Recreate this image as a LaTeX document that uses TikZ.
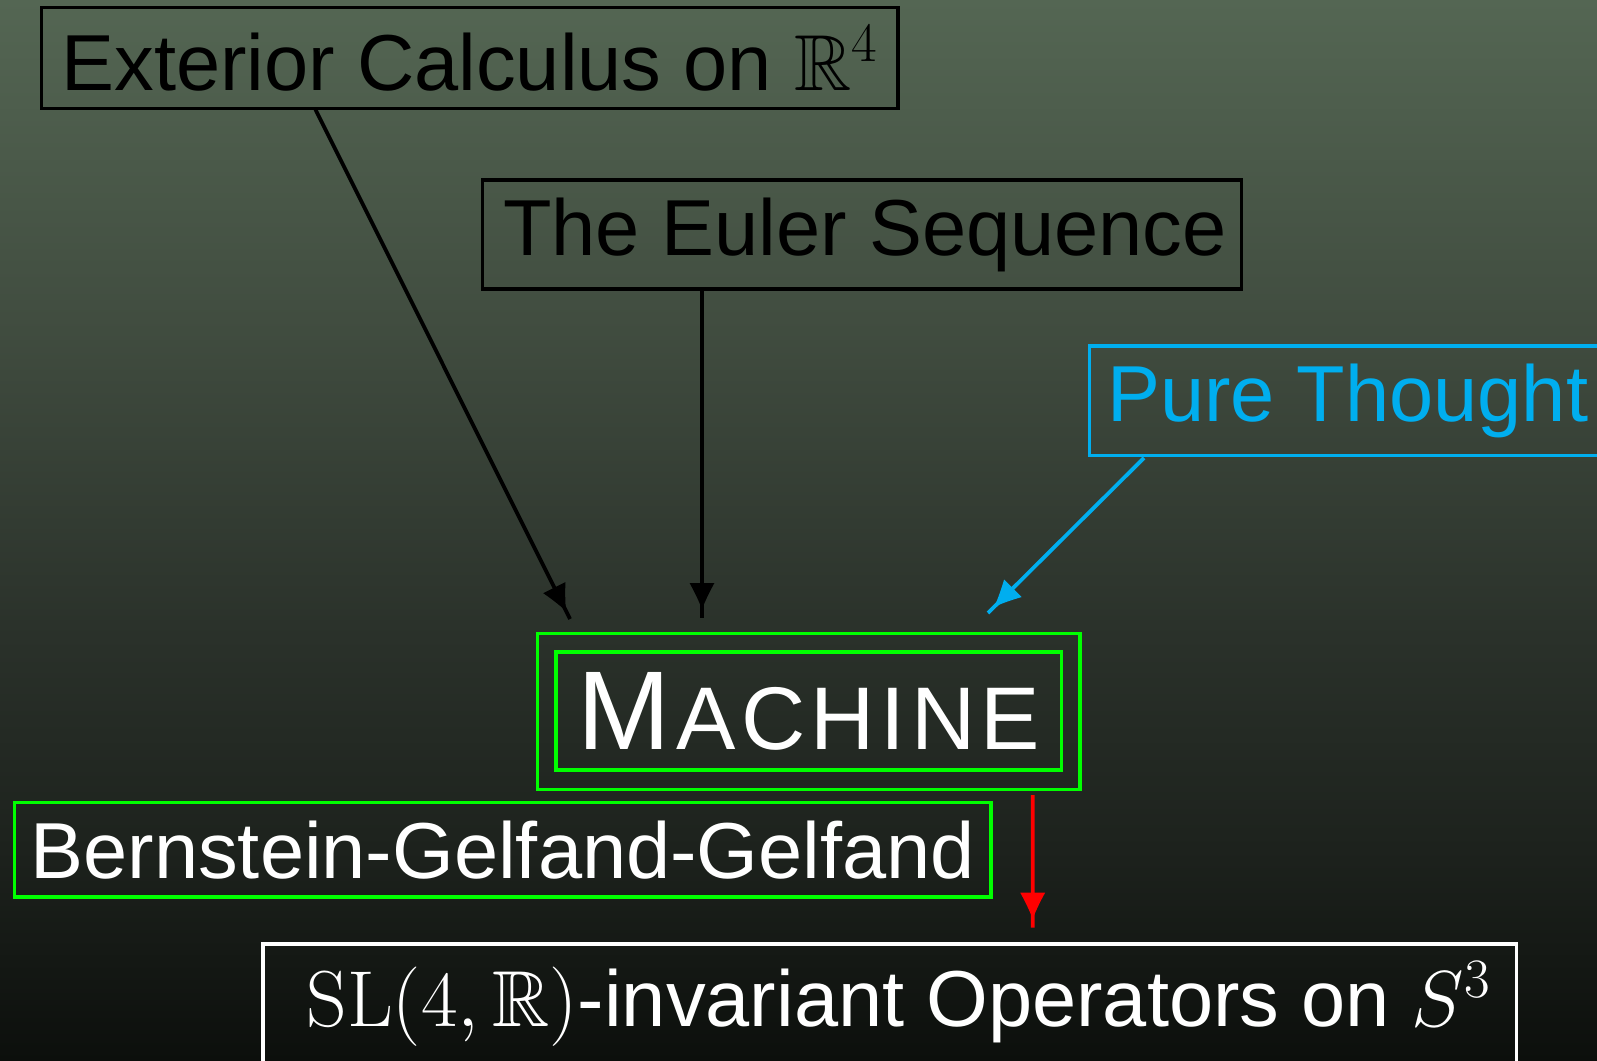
\RequirePackage{fix-cm}
\documentclass[tikz,border=0pt]{standalone}
\usepackage{amssymb}
\usepackage[no-math]{fontspec}
\newfontfamily\hel{Liberation Sans}
\usetikzlibrary{decorations.markings}
\definecolor{bgA}{RGB}{12,15,12}
\definecolor{bgB}{RGB}{29,34,29}
\definecolor{bgC}{RGB}{42,49,42}
\definecolor{bgD}{RGB}{65,77,64}
\definecolor{bgE}{RGB}{84,102,83}
\definecolor{puregreen}{RGB}{0,255,0}
\definecolor{purecyan}{RGB}{0,174,239}
\definecolor{purered}{RGB}{255,0,0}
\pgfdeclareverticalshading{bgshade}{100bp}{color(0bp)=(bgA); color(25bp)=(bgA); color(35bp)=(bgB); color(45bp)=(bgC); color(60bp)=(bgD); color(75bp)=(bgE); color(100bp)=(bgE)}
\begin{document}
\begin{tikzpicture}[x=0.5pt,y=-0.5pt,
  box/.style={draw, rectangle, line width=1.7pt, inner sep=0pt, outer sep=0pt,
    font=\hel\fontsize{39.7pt}{46pt}\selectfont},
  tipped/.style={postaction={decorate},
    decoration={markings, mark=at position -4.5pt with {\fill (0,0) .. controls (-5pt,2pt) and (-9pt,4pt) .. (-13pt,6.2pt) -- (-13pt,-6.2pt) .. controls (-9pt,-4pt) and (-5pt,-2pt) .. (0,0) -- cycle;}}},
  conn/.style={line width=1.9pt, color=#1, tipped}]
\useasboundingbox (0,0) rectangle (1597,1061);
\shade[shading=bgshade] (0,0) rectangle (1597,1061);

\node[box, draw=black, text=black, minimum width=428.25pt, minimum height=50.4pt] (ext) at (469.75,58.1) {Exterior Calculus on $\mathbb{R}^4$};
\node[box, draw=black, text=black, minimum width=379.5pt, minimum height=54.5pt] (euler) at (862,234.5) {\hspace*{3pt}The Euler Sequence};
\node[box, draw=purecyan, text=purecyan, minimum width=258.25pt, minimum height=54.65pt] (pure) at (1347.75,400.65) {Pure Thought};
\node[box, draw=puregreen, minimum width=271.15pt, minimum height=78.1pt] (machout) at (808.85,711.4) {};
\node[box, draw=puregreen, text=white, minimum width=252.85pt, minimum height=59pt] (machin) at (808.85,711)
  {\fontsize{56pt}{60pt}\selectfont M\kern2.8pt{\fontsize{44.5pt}{50pt}\selectfont A\kern2.8pt C\kern2.8pt H\kern2.8pt I\kern2.8pt N\kern2.8pt E}};
\node[box, draw=puregreen, text=white, minimum width=488.15pt, minimum height=47.25pt] (bgg) at (502.85,849.75) {Bernstein-Gelfand-Gelfand};
\node[box, draw=white, text=white, minimum width=626.85pt, minimum height=60pt] (sl) at (889.85,1004) {\hspace*{9pt}$\mathrm{SL}(4,\mathbb{R})$-invariant Operators on $S^3$};

\coordinate (e1) at (570,619);
\coordinate (e2) at (702,618);
\coordinate (e3) at (988,613);
\coordinate (e4) at (1032.7,927.7);

\draw[conn=black] ([xshift=136.75pt]ext.south west) -- (e1);
\draw[conn=black] ([xshift=109.75pt]euler.south west) -- (e2);
\draw[conn=purecyan] ([xshift=27.25pt,yshift=-1.3pt]pure.south west) -- (e3);
\draw[conn=purered] ([xshift=247.5pt,yshift=-2.75pt]machout.south west) -- (e4);
\end{tikzpicture}
\end{document}
